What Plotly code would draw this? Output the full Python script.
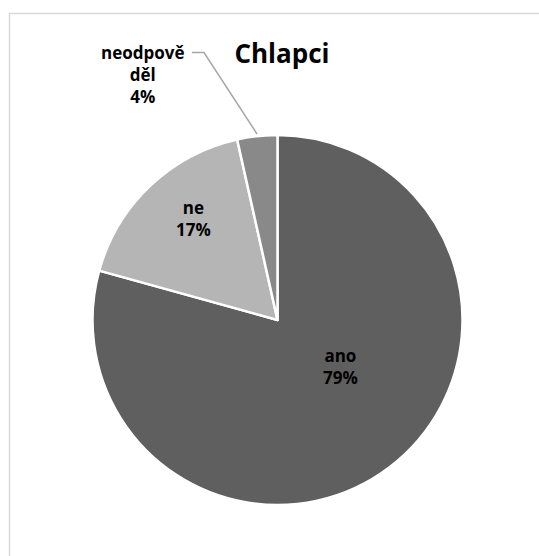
import plotly.graph_objects as go

labels = ["ano", "ne", "neodpověděl"]
label_lines = ["ano", "ne", "neodpově<br>děl"]
values = [79.3, 17.2, 3.5]
colors = ["#5f5f5f", "#b5b5b5", "#898989"]
title = "Chlapci"

W, H = 539, 556
def px(x): return x / W
def py(y): return 1 - y / H

cx, cy, r = 277.5, 320, 185

fig = go.Figure(go.Pie(
    labels=labels, values=values, sort=False, direction="clockwise", rotation=0,
    marker=dict(colors=colors, line=dict(color="white", width=2.5)),
    textinfo="none",
    showlegend=False, hoverinfo="label+percent",
    domain=dict(x=[px(cx - r), px(cx + r)], y=[py(cy + r), py(cy - r)]),
))

tot = sum(values)
label_pos = [(340, 366), (193, 218), (143, 74)]
for lab, v, (lx, ly) in zip(label_lines, values, label_pos):
    fig.add_annotation(
        x=px(lx), y=py(ly), xref="paper", yref="paper", showarrow=False,
        xanchor="center", yanchor="middle",
        text="<b>%s<br>%d%%</b>" % (lab, int(v / tot * 100 + 0.5 + 1e-9)),
        font=dict(family="Open Sans", size=17, color="black"), align="center",
    )
fig.add_shape(type="path", xref="paper", yref="paper",
              path="M %f %f L %f %f L %f %f" % (px(192), py(52.5), px(204), py(52.5), px(257), py(134)),
              line=dict(color="#a6a6a6", width=1.5))
fig.add_shape(type="rect", xref="paper", yref="paper",
              x0=px(9.5), y0=-0.05, x1=1.05, y1=py(13.5),
              line=dict(color="#d9d9d9", width=1.5))

fig.update_layout(
    width=W, height=H, margin=dict(l=0, r=0, t=0, b=0),
    paper_bgcolor="white", plot_bgcolor="white",
    title=dict(text="<b>%s</b>" % title, x=px(282), xanchor="center", y=py(54), yanchor="middle",
               font=dict(family="Open Sans", size=26, color="black")),
)
fig.write_html("out.html")
